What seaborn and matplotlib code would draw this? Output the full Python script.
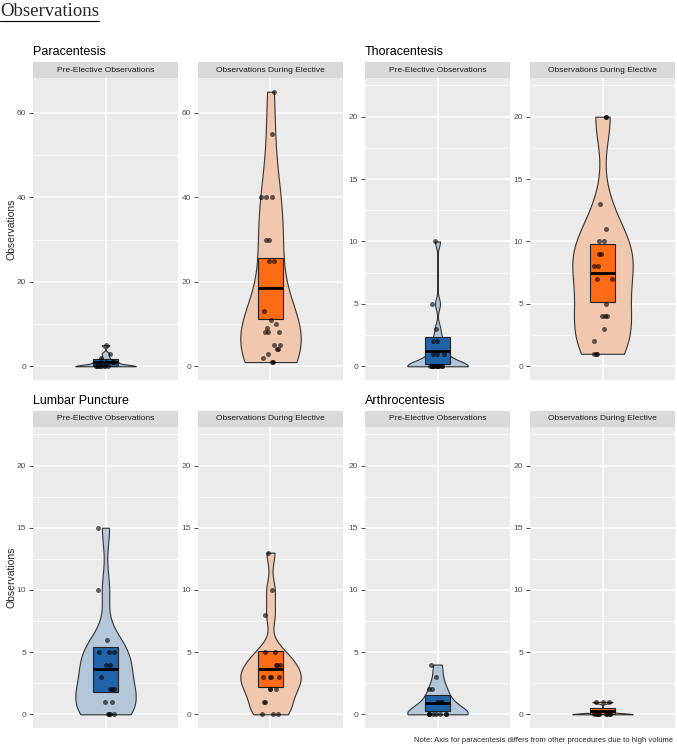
import numpy as np
import pandas as pd
import matplotlib.pyplot as plt
from matplotlib.lines import Line2D
from matplotlib.ticker import MultipleLocator
import seaborn as sns

# ---------------- data ----------------
procedures = ['Paracentesis', 'Thoracentesis', 'Lumbar Puncture', 'Arthrocentesis']
periods = ['Pre-Elective Observations', 'Observations During Elective']

para_pre = [5, 3, 2, 1, 1, 1, 0, 0, 0, 0, 0, 0, 0, 0]
para_during = [65, 55, 40, 40, 40, 30, 30, 25, 25, 13, 11, 10, 9, 8, 8, 8,
               5, 5, 4, 4, 3, 2, 1, 1]
thora_pre = [10, 5, 3, 2, 2, 1, 1, 1, 0, 0, 0, 0, 0, 0, 0, 0, 0, 0, 0, 0]
thora_during = [20, 20, 13, 11, 10, 10, 9, 9, 8, 8, 7, 7, 5, 4, 4, 4, 3, 2, 1, 1, 1]
lumbar_pre = [15, 10, 6, 5, 5, 5, 4, 4, 3, 2, 2, 2, 1, 1, 0, 0, 0, 0]
lumbar_during = [13, 10, 8, 5, 5, 4, 4, 4, 3, 3, 3, 3, 2, 2, 2, 1, 1, 0, 0, 0]
arthro_pre = [4, 3, 2, 2, 1, 1, 1, 0, 0, 0, 0, 0, 0, 0, 0]
arthro_during = [1, 1, 1, 0, 0, 0, 0, 0, 0, 0, 0, 0]

values = {
    'Paracentesis': [para_pre, para_during],
    'Thoracentesis': [thora_pre, thora_during],
    'Lumbar Puncture': [lumbar_pre, lumbar_during],
    'Arthrocentesis': [arthro_pre, arthro_during],
}
y_top = {'Paracentesis': 65, 'Thoracentesis': 22, 'Lumbar Puncture': 22, 'Arthrocentesis': 22}
y_step = {'Paracentesis': 20, 'Thoracentesis': 5, 'Lumbar Puncture': 5, 'Arthrocentesis': 5}

rows = []
for proc in procedures:
    for per, vals in zip(periods, values[proc]):
        for v in vals:
            rows.append((proc, per, v))
df = pd.DataFrame(rows, columns=['procedure', 'period', 'obs'])

violin_col = ['#b3c6da', '#f1c7ae']
box_col = ['#2063a8', '#fd6b14']

sns.set_style('darkgrid', {'axes.facecolor': '#ebebeb', 'grid.color': 'white'})
plt.rcParams['font.family'] = ['Liberation Sans', 'DejaVu Sans']

W, H = 677, 747
fig = plt.figure(figsize=(W / 100, H / 100), dpi=100)


def rect(x0, y0, x1, y1):
    return [x0 / W, 1 - y1 / H, (x1 - x0) / W, (y1 - y0) / H]


np.random.seed(3)
group_x = [33, 365]
strip_top = [62, 411]
panel_bot = [380, 728]

for i, proc in enumerate(procedures):
    gx = group_x[i % 2]
    st = strip_top[i // 2]
    pb = panel_bot[i // 2]
    fig.text(gx / W, 1 - (st - 7) / H, proc, fontsize=9, color='black', va='baseline')
    lo_lim = -0.05 * y_top[proc]
    hi_lim = 1.05 * y_top[proc]
    for j, per in enumerate(periods):
        x0 = gx + j * 165
        # strip
        sax = fig.add_axes(rect(x0, st, x0 + 145, st + 16))
        sax.set_facecolor('#d9d9d9')
        sax.set_xticks([]); sax.set_yticks([])
        for s in sax.spines.values():
            s.set_visible(False)
        sax.text(0.5, 0.5, per, ha='center', va='center', fontsize=6, color='#1a1a1a',
                 transform=sax.transAxes)

        ax = fig.add_axes(rect(x0, st + 16, x0 + 145, pb))
        d = df[(df.procedure == proc) & (df.period == per)]
        v = d['obs'].to_numpy(dtype=float)
        # ggplot nrd0 bandwidth expressed as a factor of the sd
        sd = v.std(ddof=1)
        iqr = np.subtract(*np.percentile(v, [75, 25]))
        h = 0.9 * min(sd, iqr / 1.34) * len(v) ** -0.2
        sns.violinplot(data=d, x='period', y='obs', ax=ax, cut=0, inner=None, width=0.5,
                       density_norm='width', bw_method=h / sd, color=violin_col[j],
                       saturation=1, linewidth=0.8, linecolor='#333333', gridsize=300)
        # crossbar: mean with 95% interval
        m = v.mean()
        ci = 1.96 * sd / np.sqrt(len(v))
        ax.bxp([{'med': m, 'q1': m - ci, 'q3': m + ci, 'whislo': m - ci, 'whishi': m + ci,
                 'fliers': []}], positions=[0], widths=0.2, patch_artist=True,
               showcaps=False, showfliers=False,
               boxprops=dict(facecolor=box_col[j], edgecolor='#222222', linewidth=0.8),
               medianprops=dict(color='black', linewidth=2),
               whiskerprops=dict(linewidth=0), manage_ticks=False)
        sns.stripplot(data=d, x='period', y='obs', ax=ax, color='black', alpha=0.6,
                      size=3.6, jitter=0.08, zorder=4, linewidth=0)

        ax.set_xlim(-0.6, 0.6)
        ax.set_ylim(lo_lim, hi_lim)
        ax.yaxis.set_major_locator(MultipleLocator(y_step[proc]))
        ax.yaxis.set_minor_locator(MultipleLocator(y_step[proc] / 2))
        ax.set_xticks([0])
        ax.grid(True, which='major', color='white', linewidth=1.1)
        ax.grid(True, which='minor', axis='y', color='white', linewidth=0.5)
        ax.set_axisbelow(True)
        ax.tick_params(axis='x', length=0, labelbottom=False)
        ax.tick_params(axis='y', which='major', length=3, width=0.6, color='#333333',
                       labelsize=6, labelcolor='#4d4d4d', pad=2, left=True)
        ax.tick_params(axis='y', which='minor', length=0)
        ax.set_xlabel('')
        ax.set_ylabel('')
        for s in ax.spines.values():
            s.set_visible(False)

    if i % 2 == 0:
        fig.text(12 / W, 1 - ((st + 16 + pb) / 2) / H, 'Observations', rotation=90,
                 fontsize=7.5, ha='center', va='center')

fig.text(673 / W, 1 - 740 / H,
         'Note: Axis for paracentesis differs from other procedures due to high volume',
         ha='right', va='center', fontsize=5.5)

title = fig.text(0, 1 - 16 / H, 'Observations', fontsize=13.5,
                 family=['Liberation Serif', 'DejaVu Serif'], va='baseline')
fig.canvas.draw()
bb = title.get_window_extent()
fig.add_artist(Line2D([bb.x0, bb.x1], [bb.y0 - 1, bb.y0 - 1], transform=None,
                      color='black', linewidth=0.8))

fig.savefig('out.png', dpi=100)
